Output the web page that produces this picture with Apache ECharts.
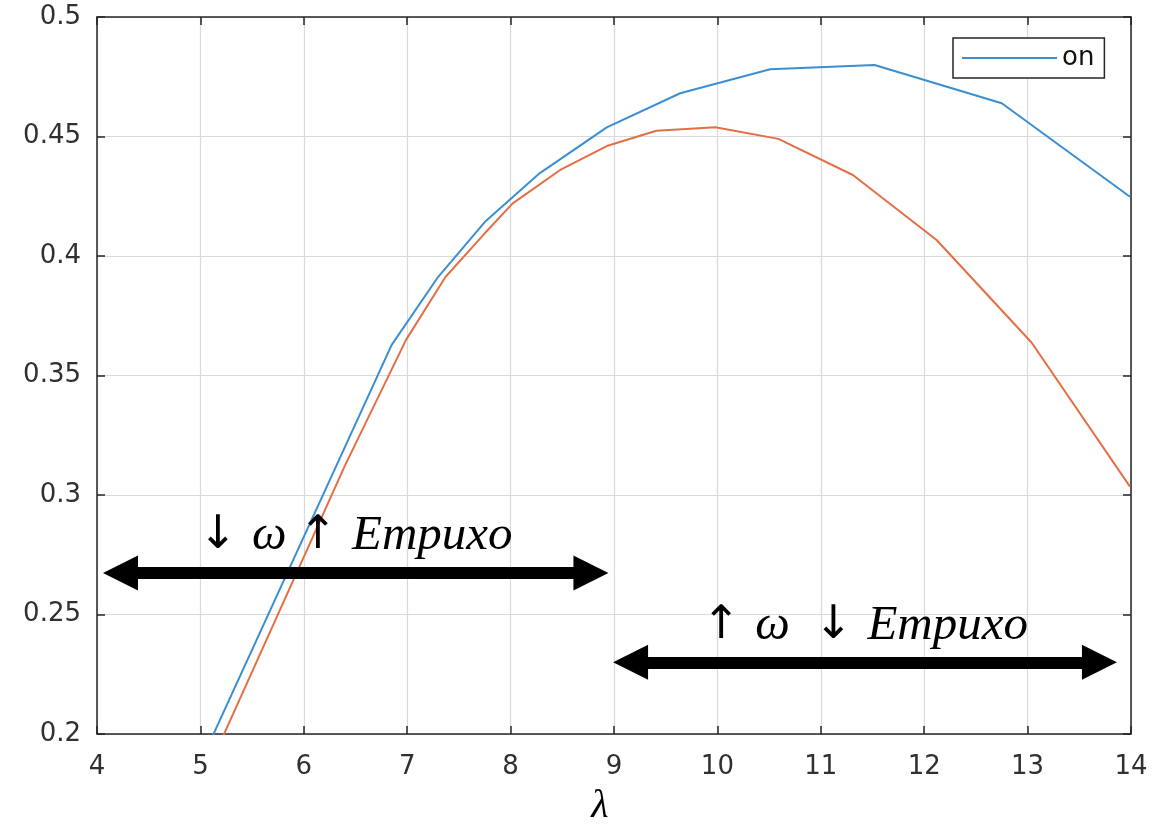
<!DOCTYPE html>
<html>
<head>
<meta charset="utf-8">
<script src="https://cdn.jsdelivr.net/npm/echarts@6/dist/echarts.min.js"></script>
<style>
  html, body { margin: 0; padding: 0; background: #fff; }
  #chart { width: 1170px; height: 833px; }
</style>
</head>
<body>
<div id="chart"></div>
<script>
// Power coefficient vs tip-speed ratio (λ), two configurations
const lambdaOn = [5.0, 6.85, 7.30, 7.75, 8.28, 8.93, 9.64, 10.51, 11.52, 12.75, 13.99];
const cpOn     = [0.188, 0.3628, 0.3913, 0.4142, 0.4346, 0.4538, 0.4681, 0.4781, 0.4799, 0.4639, 0.4248];

const lambdaOff = [5.0, 6.40, 6.99, 7.37, 7.75, 8.02, 8.48, 8.93, 9.41, 9.98, 10.59, 11.31, 12.12, 13.04, 13.99];
const cpOff     = [0.178, 0.3125, 0.365, 0.3912, 0.4095, 0.4220, 0.4360, 0.4460, 0.4524, 0.4539, 0.4490, 0.4339, 0.4067, 0.3637, 0.3035];

const xTicks = { min: 4, max: 14, step: 1 };
const yTicks = { min: 0.2, max: 0.5, step: 0.05 };

// Annotated ranges: shaft ends in λ, height in Cp
const ranges = [
  { from: 4.227, to: 8.777, level: 0.2674, text: '{a|↓ }{m|ω }{a|↑ }{m|Empuxo}' },
  { from: 9.16, to: 13.695, level: 0.2300, text: '{a|↑ }{m|ω  }{a|↓ }{m|Empuxo}' }
];

const pair = (xs, ys) => xs.map((x, i) => [x, ys[i]]);

const axisColor = '#262626';
const labelFont = { fontFamily: 'DejaVu Sans', fontSize: 26, color: '#303030' };

const chart = echarts.init(document.getElementById('chart'));

const baseX = {
  type: 'value', min: xTicks.min, max: xTicks.max, interval: xTicks.step,
  axisLine: { show: true, onZero: false, lineStyle: { color: axisColor, width: 1.5 } },
  axisTick: { show: true, inside: true, length: 8, lineStyle: { color: axisColor, width: 1.5 } }
};
const baseY = {
  type: 'value', min: yTicks.min, max: yTicks.max, interval: yTicks.step,
  axisLine: { show: true, onZero: false, lineStyle: { color: axisColor, width: 1.5 } },
  axisTick: { show: true, inside: true, length: 8, lineStyle: { color: axisColor, width: 1.5 } }
};

chart.setOption({
  animation: false,
  backgroundColor: '#fff',
  grid: { left: 97, right: 39, top: 17, bottom: 99, containLabel: false, outerBoundsMode: 'none' },
  legend: {
    data: ['on'],
    left: 953, top: 38,
    icon: 'rect',
    itemWidth: 95, itemHeight: 2,
    itemGap: 6,
    padding: [7, 10, 7, 9],
    backgroundColor: '#fff',
    borderColor: axisColor, borderWidth: 1.5,
    textStyle: { fontFamily: 'DejaVu Sans', fontSize: 26, color: '#111' }
  },
  xAxis: [
    Object.assign({}, baseX, {
      position: 'bottom',
      name: 'λ', nameLocation: 'middle', nameGap: 52,
      nameTextStyle: { fontFamily: 'Liberation Serif', fontStyle: 'italic', fontSize: 40, color: '#000', padding: [0, 28, 0, 0] },
      axisLabel: Object.assign({ margin: 20 }, labelFont),
      splitLine: { show: true, lineStyle: { color: '#d9d9d9', width: 1.2 } }
    }),
    Object.assign({}, baseX, {
      position: 'top',
      axisLabel: { show: false },
      splitLine: { show: false }
    })
  ],
  yAxis: [
    Object.assign({}, baseY, {
      position: 'left',
      axisLabel: Object.assign({ margin: 16 }, labelFont),
      splitLine: { show: true, lineStyle: { color: '#d9d9d9', width: 1.2 } }
    }),
    Object.assign({}, baseY, {
      position: 'right',
      axisLabel: { show: false },
      splitLine: { show: false }
    })
  ],
  series: [
    {
      name: 'on', type: 'line', data: pair(lambdaOn, cpOn),
      symbol: 'none', clip: true,
      lineStyle: { color: '#3a8fd3', width: 2 },
      itemStyle: { color: '#3a8fd3' },
      z: 3
    },
    {
      name: 'off', type: 'line', data: pair(lambdaOff, cpOff),
      symbol: 'none', clip: true,
      lineStyle: { color: '#e36f45', width: 2 },
      itemStyle: { color: '#e36f45' },
      z: 2,
      markLine: {
        silent: true,
        symbol: ['triangle', 'triangle'],
        symbolSize: [35, 35],
        lineStyle: { color: '#000', width: 12, type: 'solid' },
        label: {
          show: true, position: 'middle', distance: 12,
          color: '#000',
          rich: {
            a: { fontFamily: 'DejaVu Sans', fontSize: 46, color: '#000' },
            m: { fontFamily: 'Liberation Serif', fontStyle: 'italic', fontSize: 49, color: '#000' }
          }
        },
        data: ranges.map(r => [
          { coord: [r.from, r.level], label: { formatter: r.text } },
          { coord: [r.to, r.level] }
        ])
      }
    }
  ]
});
</script>
</body>
</html>
